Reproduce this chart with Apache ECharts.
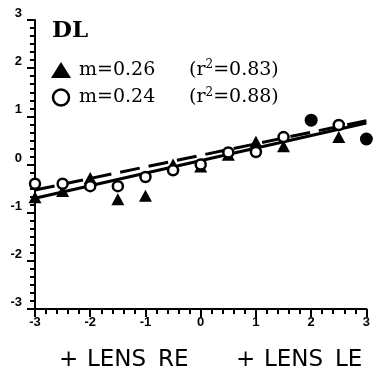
<!DOCTYPE html>
<html>
<head>
<meta charset="utf-8">
<script src="https://cdn.jsdelivr.net/npm/echarts@6/dist/echarts.min.js"></script>
<style>
  html, body { margin: 0; padding: 0; background: #fff; }
  #chart { width: 373px; height: 383px; }
</style>
</head>
<body>
<div id="chart"></div>
<script>
// Lens power steps (dioptres) and responses
const xValues = [-3, -2.5, -2, -1.5, -1, -0.5, 0, 0.5, 1, 1.5, 2, 2.5, 3];
const triangleValues = [-0.68, -0.55, -0.28, -0.72, -0.65, 0.0, -0.04, 0.2, 0.47, 0.38, null, 0.57, null];
const circleValues = [-0.4, -0.4, -0.45, -0.45, -0.26, -0.12, 0.0, 0.25, 0.26, 0.57, null, 0.82, null];
// points where both measurements coincide
const overlapX = [2, 3];
const overlapY = [0.92, 0.53];

// regression fits: [triangles, circles]
const slopes = [0.26, 0.24];
const intercepts = [0.08, 0.19];
const rSquared = [0.83, 0.88];

const axisTicks = [-3, -2, -1, 0, 1, 2, 3];
const xLabels = [['+', 'LENS', 'RE'], ['+', 'LENS', 'LE']];
const panelTitle = 'DL';

const seriesNames = ['m=' + slopes[0].toFixed(2), 'm=' + slopes[1].toFixed(2)];

function pairs(xs, ys) {
  const out = [];
  xs.forEach((x, i) => { if (ys[i] !== null) out.push([x, ys[i]]); });
  return out;
}
function fitLine(k) {
  const x0 = axisTicks[0], x1 = axisTicks[axisTicks.length - 1];
  return [[x0, slopes[k] * x0 + intercepts[k]], [x1, slopes[k] * x1 + intercepts[k]]];
}
function lensLabel(words) {
  return '{a|' + words[0] + '}{b|' + words[1] + '}{c|' + words[2] + '}';
}

const chart = echarts.init(document.getElementById('chart'), null, { renderer: 'canvas' });

const tickFont = { fontFamily: 'Liberation Sans', fontWeight: 'bold', fontSize: 13, color: '#000' };
const lensFont = { fontFamily: 'DejaVu Sans', fontSize: 23, color: '#000' };
const lensRich = {
  a: Object.assign({ width: 28 }, lensFont),
  b: Object.assign({ width: 71 }, lensFont),
  c: Object.assign({}, lensFont)
};

chart.setOption({
  animation: false,
  backgroundColor: '#fff',
  title: {
    text: panelTitle,
    left: 52,
    top: 20,
    padding: 0,
    textStyle: { fontFamily: 'DejaVu Serif', fontWeight: 'bold', fontSize: 23, color: '#000' }
  },
  legend: {
    data: [
      { name: seriesNames[0], icon: 'triangle', itemStyle: { color: '#000', borderWidth: 0, opacity: 1 } },
      { name: seriesNames[1], icon: 'circle', itemStyle: { color: '#fff', borderColor: '#000', borderWidth: 2.5, opacity: 1 } }
    ],
    orient: 'vertical',
    left: 51,
    top: 59,
    padding: 0,
    itemWidth: 20,
    itemHeight: 16,
    itemGap: 7,
    selectedMode: false,
    formatter: function (name) {
      const k = seriesNames.indexOf(name);
      return '{m|' + name + '}{r|(r}{sup|2}{r|=' + rSquared[k].toFixed(2) + ')}';
    },
    textStyle: {
      fontFamily: 'DejaVu Serif',
      fontSize: 19,
      color: '#000',
      rich: {
        m: { fontFamily: 'DejaVu Serif', fontSize: 19, color: '#000', width: 110, padding: [0, 0, 0, 3] },
        r: { fontFamily: 'DejaVu Serif', fontSize: 19, color: '#000' },
        sup: { fontFamily: 'DejaVu Serif', fontSize: 12, color: '#000', padding: [0, 0, 10, 0] }
      }
    }
  },
  grid: { left: 35, right: 6, top: 20, bottom: 74, containLabel: false },
  xAxis: {
    type: 'value',
    min: axisTicks[0],
    max: axisTicks[axisTicks.length - 1],
    interval: 1,
    splitLine: { show: false },
    axisLine: { onZero: false, lineStyle: { color: '#000', width: 2 } },
    axisTick: { show: true, inside: false, length: 8, lineStyle: { color: '#000', width: 2 } },
    minorTick: { show: true, splitNumber: 5, length: 5, lineStyle: { color: '#000', width: 2 } },
    axisLabel: Object.assign({ margin: 7 }, tickFont)
  },
  yAxis: {
    type: 'value',
    min: axisTicks[0],
    max: axisTicks[axisTicks.length - 1],
    interval: 1,
    splitLine: { show: false },
    axisLine: { onZero: false, lineStyle: { color: '#000', width: 2 } },
    axisTick: { show: true, inside: false, length: 8, lineStyle: { color: '#000', width: 2 } },
    minorTick: { show: true, splitNumber: 6, length: 5, lineStyle: { color: '#000', width: 2 } },
    axisLabel: Object.assign({ margin: 13, verticalAlign: 'bottom' }, tickFont)
  },
  graphic: [
    { type: 'text', left: 59, top: 349, style: { text: lensLabel(xLabels[0]), rich: lensRich } },
    { type: 'text', left: 236, top: 349, style: { text: lensLabel(xLabels[1]), rich: lensRich } }
  ],
  series: [
    {
      name: 'fit0', type: 'line', data: fitLine(0), showSymbol: false, silent: true, z: 2,
      lineStyle: { color: '#000', width: 3 }
    },
    {
      name: 'fit1', type: 'line', data: fitLine(1), showSymbol: false, silent: true, z: 2,
      lineStyle: { color: '#000', width: 3, type: [20, 9] }
    },
    {
      name: seriesNames[0], type: 'scatter', data: pairs(xValues, triangleValues), z: 3, clip: false,
      symbol: 'triangle', symbolSize: [13, 12],
      itemStyle: { color: '#000', opacity: 1 }
    },
    {
      name: seriesNames[1], type: 'scatter', data: pairs(xValues, circleValues), z: 4, clip: false,
      symbol: 'circle', symbolSize: 10,
      itemStyle: { color: '#fff', borderColor: '#000', borderWidth: 2.5, opacity: 1 }
    },
    {
      name: 'both', type: 'scatter', data: pairs(overlapX, overlapY), z: 4, clip: false,
      symbol: 'circle', symbolSize: 13,
      itemStyle: { color: '#000', opacity: 1 }
    }
  ]
});
</script>
</body>
</html>
